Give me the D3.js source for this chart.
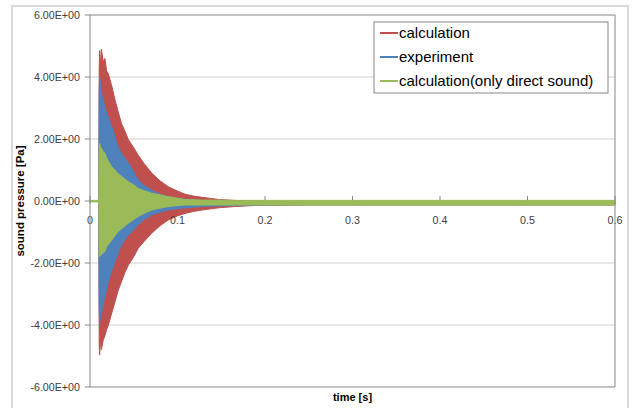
<!DOCTYPE html>
<html>
<head>
<meta charset="utf-8">
<script src="https://cdn.jsdelivr.net/npm/d3@7"></script>
<style>
  body { margin: 0; background: #fff; }
  text { font-family: "Liberation Sans", Arial, sans-serif; }
</style>
</head>
<body>
<script>
// chart size
const width = 633;
const height = 408;

const times = [0, 0.0100, 0.0105, 0.011, 0.012, 0.013, 0.015, 0.017, 0.019, 0.021, 0.025, 0.0286,
  0.032, 0.036, 0.040, 0.044, 0.050, 0.055, 0.062, 0.0705, 0.080, 0.0895, 0.100, 0.1086,
  0.118, 0.128, 0.147, 0.165, 0.185, 0.200, 0.250, 0.300, 0.400, 0.500, 0.600];

// calculation (red): upper / lower envelope [Pa]
const calcHi = [0, 0, 4.3, 4.85, 4.4, 4.9, 4.5, 4.6, 4.2, 4.1, 3.7, 3.26,
  2.9, 2.5, 2.25, 1.97, 1.72, 1.48, 1.2, 0.9, 0.65, 0.46, 0.32, 0.22,
  0.16, 0.12, 0.05, 0.02, 0.0, -0.02, -0.04, -0.04, -0.04, -0.04, -0.04];
const calcLo = [0, 0, -4.6, -4.97, -4.5, -4.8, -4.5, -4.35, -4.15, -4.0, -3.6, -3.25,
  -2.9, -2.6, -2.3, -2.06, -1.8, -1.53, -1.3, -1.04, -0.8, -0.61, -0.48, -0.4,
  -0.34, -0.29, -0.22, -0.18, -0.15, -0.14, -0.13, -0.13, -0.13, -0.13, -0.13];

// experiment (blue)
const expHi = [0, 0, 3.6, 4.0, 3.8, 3.5, 3.3, 3.04, 2.85, 2.7, 2.4, 2.05,
  1.75, 1.55, 1.38, 1.22, 0.95, 0.68, 0.5, 0.35, 0.22, 0.14, 0.09, 0.06,
  0.04, 0.02, 0.0, -0.02, -0.03, -0.04, -0.05, -0.05, -0.05, -0.05, -0.05];
const expLo = [0, 0, -3.5, -3.95, -3.7, -3.6, -3.35, -3.1, -2.85, -2.6, -2.25, -1.96,
  -1.7, -1.42, -1.25, -1.1, -0.93, -0.77, -0.6, -0.45, -0.36, -0.29, -0.25, -0.22,
  -0.2, -0.18, -0.16, -0.15, -0.14, -0.13, -0.12, -0.12, -0.12, -0.12, -0.12];

// calculation, only direct sound (green)
const dirHi = [0.02, 0.02, 1.7, 1.86, 1.75, 1.7, 1.6, 1.54, 1.4, 1.28, 1.1, 1.0,
  0.89, 0.8, 0.7, 0.62, 0.52, 0.41, 0.33, 0.25, 0.2, 0.14, 0.09, 0.05,
  0.04, 0.03, 0.03, 0.02, 0.02, 0.02, 0.02, 0.02, 0.02, 0.02, 0.02];
const dirLo = [-0.03, -0.03, -1.7, -1.8, -1.75, -1.72, -1.68, -1.63, -1.48, -1.4, -1.26, -1.12,
  -0.99, -0.9, -0.8, -0.72, -0.6, -0.5, -0.4, -0.29, -0.23, -0.18, -0.15, -0.13,
  -0.13, -0.13, -0.13, -0.13, -0.13, -0.13, -0.13, -0.13, -0.13, -0.13, -0.13];

const seriesNames = ["calculation", "experiment", "calculation(only direct sound)"];
const seriesColors = ["#C0504D", "#4F81BD", "#9BBB59"];
const yTicks = [6, 4, 2, 0, -2, -4, -6];
const xTicks = [0, 0.1, 0.2, 0.3, 0.4, 0.5, 0.6];

const svg = d3.select("body").append("svg")
  .attr("width", width)
  .attr("height", height);

// outer chart frame
svg.append("rect")
  .attr("x", 12).attr("y", 6)
  .attr("width", 616).attr("height", 410)
  .attr("fill", "#fff")
  .attr("stroke", "#d9d9d9")
  .attr("stroke-width", 2);

const plot = { left: 90, right: 615, top: 15, bottom: 387 };

const x = d3.scaleLinear().domain([0, 0.6]).range([plot.left, plot.right]);
const y = d3.scaleLinear().domain([-6, 6]).range([plot.bottom, plot.top]);

// gridlines
svg.append("g")
  .selectAll("line")
  .data(yTicks.filter(d => d !== 0 && Math.abs(d) !== 6))
  .join("line")
  .attr("x1", plot.left).attr("x2", plot.right)
  .attr("y1", d => y(d)).attr("y2", d => y(d))
  .attr("stroke", "#d0d0d0");

// y tick marks + labels
svg.append("g")
  .selectAll("line")
  .data(yTicks)
  .join("line")
  .attr("x1", plot.left - 5).attr("x2", plot.left)
  .attr("y1", d => y(d)).attr("y2", d => y(d))
  .attr("stroke", "#868686");

svg.append("g")
  .selectAll("text")
  .data(yTicks)
  .join("text")
  .attr("x", plot.left - 10)
  .attr("y", d => y(d) + 4)
  .attr("text-anchor", "end")
  .style("font-size", "10.7px")
  .style("fill", "#404040")
  .text(d => d.toFixed(2) + "E+00");

// x axis along zero line, ticks
svg.append("g")
  .selectAll("line")
  .data(xTicks)
  .join("line")
  .attr("x1", d => x(d)).attr("x2", d => x(d))
  .attr("y1", y(0) - 5).attr("y2", y(0) + 3)
  .attr("stroke", "#868686");

svg.append("line")
  .attr("x1", plot.left).attr("x2", plot.right)
  .attr("y1", y(0)).attr("y2", y(0))
  .attr("stroke", "#868686");

// series as envelope bands
const his = [calcHi, expHi, dirHi];
const los = [calcLo, expLo, dirLo];

his.forEach((hi, k) => {
  const pts = times.map((t, i) => ({ t: t, hi: hi[i], lo: los[k][i] }));
  const start = k === 2 ? 0 : 1;
  const area = d3.area()
    .x(d => x(d.t))
    .y0(d => y(d.lo))
    .y1(d => y(d.hi));
  svg.append("path")
    .datum(pts.slice(start))
    .attr("d", area)
    .attr("fill", seriesColors[k])
    .attr("stroke", seriesColors[k])
    .attr("stroke-width", 1)
    .attr("stroke-linejoin", "round");
});

// x tick labels
svg.append("g")
  .selectAll("text")
  .data(xTicks)
  .join("text")
  .attr("x", d => x(d))
  .attr("y", y(0) + 23)
  .attr("text-anchor", "middle")
  .style("font-size", "10.7px")
  .style("fill", "#404040")
  .text(d => d === 0 ? "0" : d3.format(".1f")(d));

// plot area border (top, right, bottom; left axis)
svg.append("path")
  .attr("d", `M${plot.left},${plot.top}H${plot.right}V${plot.bottom}H${plot.left}`)
  .attr("fill", "none")
  .attr("stroke", "#868686");
svg.append("line")
  .attr("x1", plot.left).attr("x2", plot.left)
  .attr("y1", plot.top).attr("y2", plot.bottom)
  .attr("stroke", "#868686");

// axis titles
svg.append("text")
  .attr("x", (plot.left + plot.right) / 2)
  .attr("y", 401)
  .attr("text-anchor", "middle")
  .style("font-size", "11px")
  .style("font-weight", "bold")
  .style("fill", "#000")
  .text("time [s]");

svg.append("text")
  .attr("transform", `translate(24, ${y(0)}) rotate(-90)`)
  .attr("text-anchor", "middle")
  .style("font-size", "11.5px")
  .style("font-weight", "bold")
  .style("fill", "#000")
  .text("sound pressure [Pa]");

// legend
const legend = svg.append("g");
legend.append("rect")
  .attr("x", 374).attr("y", 22)
  .attr("width", 234).attr("height", 71)
  .attr("fill", "#fff")
  .attr("stroke", "#868686");

seriesNames.forEach((name, i) => {
  const ly = 33 + i * 24;
  legend.append("line")
    .attr("x1", 380).attr("x2", 398)
    .attr("y1", ly).attr("y2", ly)
    .attr("stroke", seriesColors[i])
    .attr("stroke-width", 2);
  legend.append("text")
    .attr("x", 399)
    .attr("y", ly + 5)
    .style("font-size", "15px")
    .style("fill", "#000")
    .text(name);
});
</script>
</body>
</html>
